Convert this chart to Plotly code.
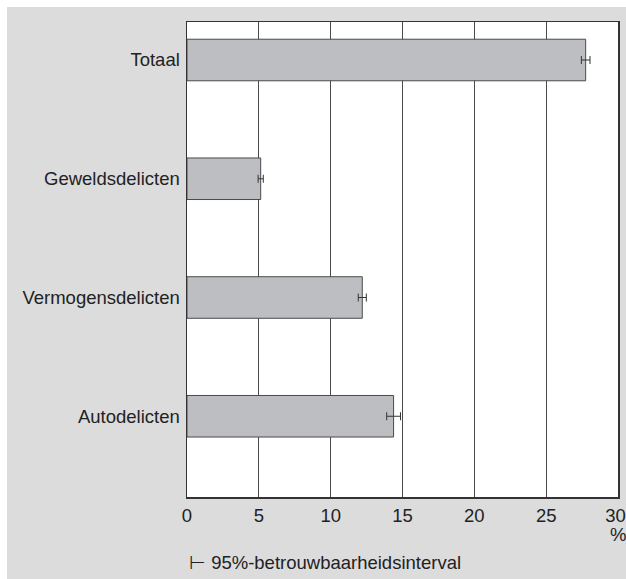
import plotly.graph_objects as go

categories = ["Totaal", "Geweldsdelicten", "Vermogensdelicten", "Autodelicten"]
values = [27.75, 5.13, 12.2, 14.38]
ci_half = [0.3, 0.18, 0.28, 0.48]
x_ticks = [0, 5, 10, 15, 20, 25, 30]

W, H = 626, 579
L, R, T, B = 187, 8, 22, 82
pw, ph = W - L - R, H - T - B
edge = 7  # white border at top and left

tick_text = [str(v) for v in x_ticks]
tick_text[-1] = tick_text[-1] + "\u00a0"  # keep the last label inside the page edge

fig = go.Figure()
fig.add_trace(go.Bar(
    x=values, y=categories, orientation="h", width=0.35,
    marker=dict(color="#bdbec2", line=dict(color="#4a4a4a", width=1)),
    error_x=dict(type="data", array=ci_half, visible=True,
                 color="#333333", thickness=1, width=4),
    showlegend=False, hoverinfo="skip",
))

font = dict(family="Liberation Sans, Arial, sans-serif", size=18.5, color="#222222")

fig.update_layout(
    width=W, height=H,
    margin=dict(l=L, r=R, t=T, b=B, autoexpand=False),
    paper_bgcolor="#dcdcdd", plot_bgcolor="#ffffff",
    font=font,
    xaxis=dict(range=[0, 30], tickvals=x_ticks, ticktext=tick_text,
               showgrid=True, gridcolor="#4a4a4a", gridwidth=1,
               showline=True, linecolor="#333333", linewidth=1.5, mirror=True,
               zeroline=False, ticks="", ticklabelstandoff=1, fixedrange=True,
               automargin=False, ticklabeloverflow="allow"),
    yaxis=dict(range=[3.68, -0.32], showgrid=False,
               showline=True, linecolor="#333333", linewidth=1.5, mirror=True,
               ticks="", ticklabelstandoff=2, fixedrange=True, automargin=False),
    annotations=[
        dict(text="%", xref="x", yref="paper", x=30, y=-37 / ph,
             showarrow=False, xanchor="center", yanchor="middle",
             font=font),
        dict(text="⊢ 95%-betrouwbaarheidsinterval", xref="paper", yref="paper",
             x=0, y=-65 / ph, xanchor="left", yanchor="middle",
             showarrow=False, font=font),
    ],
    shapes=[
        dict(type="rect", xref="paper", yref="paper",
             x0=-L / pw, x1=-(L - edge) / pw, y0=-B / ph, y1=(ph + T) / ph,
             fillcolor="white", line=dict(width=0), layer="below"),
        dict(type="rect", xref="paper", yref="paper",
             x0=-L / pw, x1=(pw + R) / pw, y0=(ph + T - edge) / ph, y1=(ph + T) / ph,
             fillcolor="white", line=dict(width=0), layer="below"),
    ],
)

fig.write_html(
    "out.html",
    config={"displayModeBar": False, "staticPlot": True},
    post_script="document.body.style.margin='0';document.body.style.overflow='hidden';",
)
